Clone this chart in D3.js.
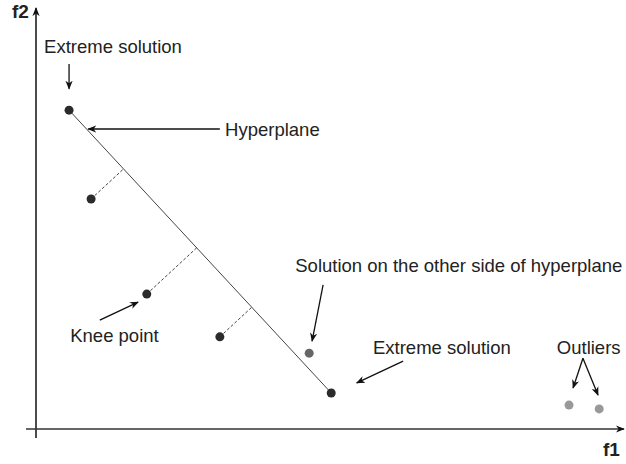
<!DOCTYPE html>
<html>
<head>
<meta charset="utf-8">
<script src="https://cdn.jsdelivr.net/npm/d3@7"></script>
<style>
  body { margin: 0; background: #fff; }
  text { font-family: "Liberation Sans", Arial, sans-serif; fill: #222; }
</style>
</head>
<body>
<svg id="chart" width="626" height="464"></svg>
<script>
// solutions in objective space (f1, f2), normalised 0..1
const f1 = [0.057, 0.095, 0.191, 0.317, 0.471, 0.509, 0.919, 0.971];
const f2 = [0.761, 0.549, 0.322, 0.220, 0.181, 0.086, 0.057, 0.048];
const kind = ['extreme', 'inner', 'inner', 'inner', 'other', 'extreme', 'outlier', 'outlier'];

// annotation labels (baseline position, data units) and arrows
const labels = ['Extreme solution', 'Hyperplane', 'Knee point',
  'Solution on the other side of hyperplane', 'Extreme solution', 'Outliers'];
const labelX = [0.014, 0.326, 0.059, 0.447, 0.581, 0.898];
const labelY = [0.897, 0.699, 0.208, 0.375, 0.179, 0.179];
const arrows = [
  [[0.057, 0.871], [0.057, 0.812]],
  [[0.317, 0.716], [0.090, 0.716]],
  [[0.110, 0.260], [0.176, 0.303]],
  [[0.495, 0.344], [0.476, 0.210]],
  [[0.633, 0.162], [0.553, 0.110]],
  [[0.943, 0.169], [0.926, 0.098]],
  [[0.943, 0.169], [0.969, 0.081]]
];

const svg = d3.select('#chart');
const x = d3.scaleLinear().domain([0, 1]).range([36, 616]);
const y = d3.scaleLinear().domain([0, 1]).range([429, 10]);

const defs = svg.append('defs');
defs.append('marker')
    .attr('id', 'head')
    .attr('viewBox', '0 0 10 10')
    .attr('refX', 9).attr('refY', 5)
    .attr('markerWidth', 9).attr('markerHeight', 9)
    .attr('markerUnits', 'userSpaceOnUse')
    .attr('orient', 'auto')
  .append('path')
    .attr('d', 'M0,1 L10,5 L0,9 L3,5 Z')
    .attr('fill', '#111');

// axes
svg.append('line')
    .attr('x1', x(0)).attr('y1', y(0) + 9)
    .attr('x2', x(0)).attr('y2', y(1) - 2)
    .attr('stroke', '#111').attr('stroke-width', 1.5)
    .attr('marker-end', 'url(#head)');
svg.append('line')
    .attr('x1', x(0) - 10).attr('y1', y(0))
    .attr('x2', x(1) + 8).attr('y2', y(0))
    .attr('stroke', '#333').attr('stroke-width', 1.5)
    .attr('marker-end', 'url(#head)');
svg.append('text').text('f2')
    .attr('x', 12).attr('y', 18)
    .style('font-weight', 'bold').style('font-size', '19px');
svg.append('text').text('f1')
    .attr('x', 603).attr('y', 456)
    .style('font-weight', 'bold').style('font-size', '19px');

// hyperplane through the two extreme solutions
const ext = d3.range(f1.length).filter(i => kind[i] === 'extreme');
const [a, b] = ext;
svg.append('line')
    .attr('x1', x(f1[a])).attr('y1', y(f2[a]))
    .attr('x2', x(f1[b])).attr('y2', y(f2[b]))
    .attr('stroke', '#444').attr('stroke-width', 1);

// perpendicular distance of inner solutions to the hyperplane (screen space)
const ax = x(f1[a]), ay = y(f2[a]);
const dx = x(f1[b]) - ax, dy = y(f2[b]) - ay;
const len2 = dx * dx + dy * dy;
d3.range(f1.length).filter(i => kind[i] === 'inner').forEach(i => {
  const px = x(f1[i]), py = y(f2[i]);
  const t = ((px - ax) * dx + (py - ay) * dy) / len2;
  svg.append('line')
      .attr('x1', px).attr('y1', py)
      .attr('x2', ax + t * dx).attr('y2', ay + t * dy)
      .attr('stroke', '#444').attr('stroke-width', 1)
      .attr('stroke-dasharray', '3,2');
});

// solutions
const fill = { extreme: '#2b2b2b', inner: '#2b2b2b', other: '#666', outlier: '#999' };
svg.selectAll('circle')
  .data(d3.range(f1.length))
  .join('circle')
    .attr('cx', i => x(f1[i]))
    .attr('cy', i => y(f2[i]))
    .attr('r', 4.5)
    .attr('fill', i => fill[kind[i]]);

// annotations
svg.selectAll('.arrow')
  .data(arrows)
  .join('line')
    .attr('class', 'arrow')
    .attr('x1', d => x(d[0][0])).attr('y1', d => y(d[0][1]))
    .attr('x2', d => x(d[1][0])).attr('y2', d => y(d[1][1]))
    .attr('stroke', '#111').attr('stroke-width', 1.3)
    .attr('marker-end', 'url(#head)');

svg.selectAll('.label')
  .data(labels)
  .join('text')
    .attr('class', 'label')
    .attr('x', (d, i) => x(labelX[i]))
    .attr('y', (d, i) => y(labelY[i]))
    .style('font-size', '18.5px')
    .text(d => d);
</script>
</body>
</html>
